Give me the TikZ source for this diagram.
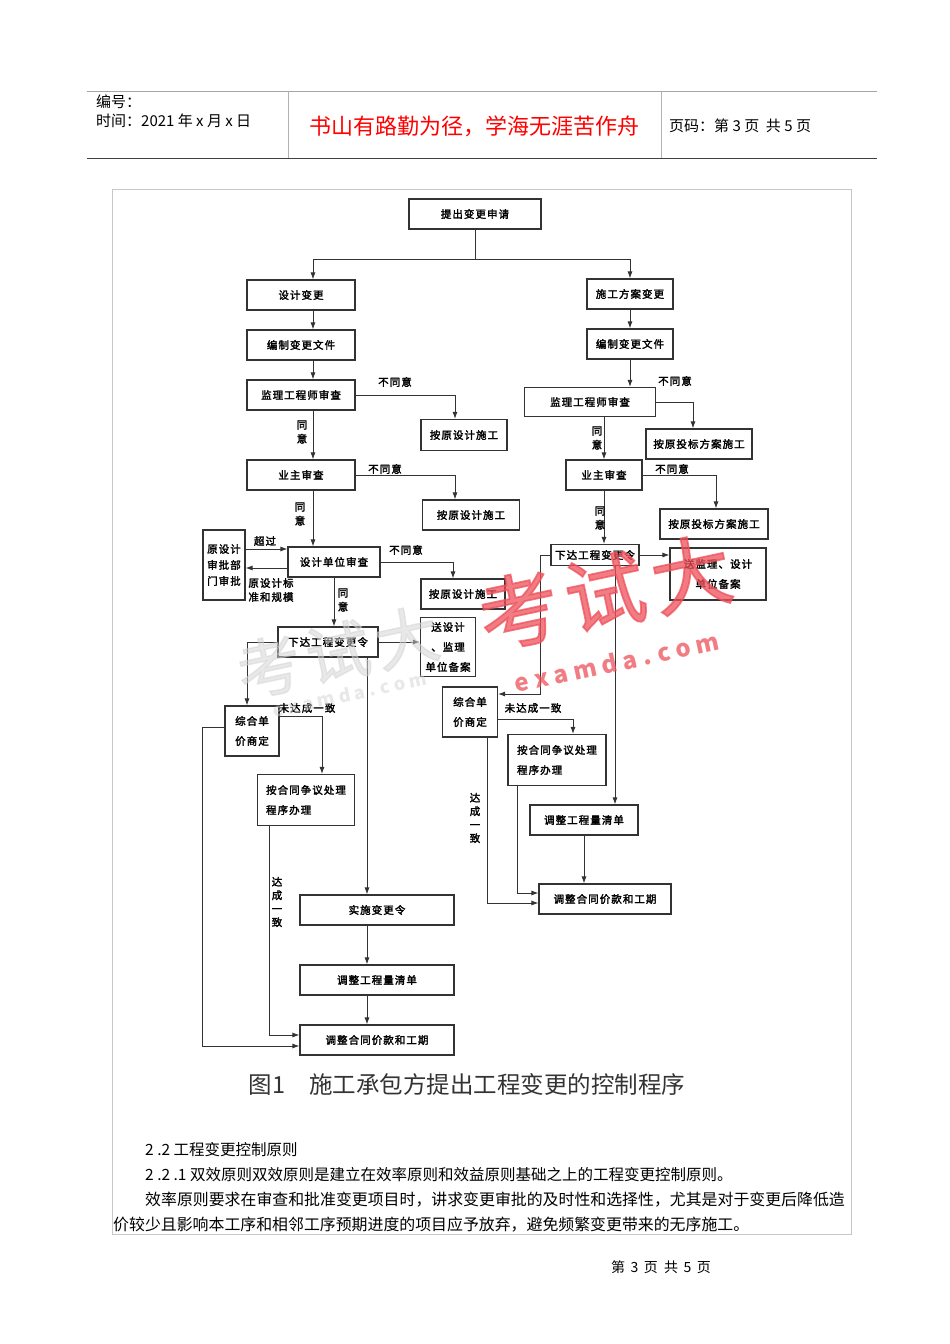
\documentclass[tikz,border=0pt]{standalone}
\usepackage{fontspec}
\setmainfont{Noto Sans CJK SC}
\newfontfamily\fcb{Noto Sans CJK SC}[FakeBold=2.2, LetterSpace=10]
\usetikzlibrary{arrows.meta,positioning,calc}
\definecolor{framegray}{gray}{0.78}
\definecolor{wmred}{RGB}{238,80,90}

\begin{document}
\begin{tikzpicture}[x=1pt, y=-1pt,
    >={Latex[length=7pt,width=5pt]},
    box/.style={draw=black!80, line width=1.1pt, fill=white, align=center, inner sep=1pt,
      font=\fcb\fontsize{10.5}{20}\selectfont},
    sz/.style 2 args={minimum width=#1pt, minimum height=#2pt},
    tag/.style={font=\fcb\fontsize{10.5}{14}\selectfont, inner sep=0pt, align=center},
    link/.style={->, line width=0.9pt, draw=black!80},
    plain/.style={anchor=west, inner sep=0pt}
]
\useasboundingbox (0,0) rectangle (950,1344);

% page header
\draw[gray!70, line width=1pt] (87,91) -- (877,91);
\draw[black!75, line width=1pt] (87,158) -- (877,158);
\draw[gray!60] (288,91) -- (288,158) (661,91) -- (661,158);
\node[plain, font=\fontsize{15}{15}\selectfont] (hno) at (96,102) {编号：};
\node[plain, font=\fontsize{15}{15}\selectfont] (hdate) at (96,121) {时间：2021 年 x 月 x 日};
\node[text=red, font=\fontsize{22}{22}\selectfont] (motto) at (474,126) {书山有路勤为径，学海无涯苦作舟};
\node[plain, font=\fontsize{15}{15}\selectfont] (hpage) at (669,126) {页码：第 3 页 \ 共 5 页};

\draw[framegray, line width=0.8pt] (112,189) rectangle (851,1234);

% boxes
\node[box, sz={132}{30}] (req) at (475,214) {提出变更申请};
\node[box, sz={108}{30}] (dchg) at (301,295) {设计变更};
\node[box, sz={86}{30}] (cchg) at (630,294) {施工方案变更};
\node[box, sz={108}{30}] (ddoc) at (301,345) {编制变更文件};
\node[box, sz={86}{30}] (cdoc) at (630,344) {编制变更文件};
\node[box, sz={108}{30}] (dsup) at (301,395) {监理工程师审查};
\node[box, sz={131}{29}] (csup) at (590,402) {监理工程师审查};
\node[box, sz={86}{31}] (dorig1) at (464,435) {按原设计施工};
\node[box, sz={106}{30}] (corig1) at (699,444) {按原投标方案施工};
\node[box, sz={108}{30}] (down) at (301,475) {业主审查};
\node[box, sz={76}{30}] (cown) at (604,475) {业主审查};
\node[box, sz={97}{30}] (dorig2) at (471,515) {按原设计施工};
\node[box, sz={108}{30}] (corig2) at (714,524) {按原投标方案施工};
\node[box, sz={42}{70}, font=\fcb\fontsize{10.5}{16}\selectfont] (appr) at (224,565) {原设计\\审批部\\门审批};
\node[box, sz={92}{30}] (drev) at (334,562) {设计单位审查};
\node[box, sz={84}{30}] (dorig3) at (463,594) {按原设计施工};
\node[box, sz={88}{21}] (cord) at (595,555) {下达工程变更令};
\node[box, sz={96}{52}] (cfile) at (718,574) {送监理、设计\\单位备案};
\node[box, sz={100}{30}] (dord) at (328,642) {下达工程变更令};
\node[box, sz={55}{59}] (dfile) at (448,647) {送设计\\、监理\\单位备案};
\node[box, sz={54}{50}] (dprice) at (252,731) {综合单\\价商定};
\node[box, sz={97}{51}, align=left] (ddisp) at (306,800) {按合同争议处理\\程序办理};
\node[box, sz={55}{50}] (cprice) at (470,712) {综合单\\价商定};
\node[box, sz={98}{51}, align=left] (cdisp) at (557,760) {按合同争议处理\\程序办理};
\node[box, sz={108}{30}] (cqty) at (584,820) {调整工程量清单};
\node[box, sz={132}{30}] (cadj) at (605,899) {调整合同价款和工期};
\node[box, sz={154}{30}] (impl) at (377,910) {实施变更令};
\node[box, sz={154}{30}] (dqty) at (377,980) {调整工程量清单};
\node[box, sz={154}{30}] (dadj) at (377,1040) {调整合同价款和工期};

% connectors
\coordinate (fork) at (475,259);
\coordinate (lsp) at (313,0);
\coordinate (yhi) at (0,549);
\coordinate (ylo) at (0,568);
\draw[line width=0.9pt, black!80] (req) -- (fork);
\draw[link] (fork) -| (dchg.north -| lsp);
\draw[link] (fork) -| (cchg.north);
\draw[link] (dchg.south -| lsp) -- (ddoc.north -| lsp);
\draw[link] (ddoc.south -| lsp) -- (dsup.north -| lsp);
\draw[link] (dsup.south -| lsp) -- (down.north -| lsp);
\draw[link] (down.south -| lsp) -- (drev.north -| lsp);
\draw[link] (cchg) -- (cdoc);
\draw[link] (cdoc.south) -- (cdoc.south |- csup.north);
\draw[link] (csup.south -| cown.north) -- (cown.north);
\draw[link] (cown.south) -- (cown.south |- cord.north);
\draw[link] (dsup.east) -| ([xshift=-9pt]dorig1.north);
\draw[link] (csup.east) -| ([xshift=-6pt]corig1.north);
\draw[link] (down.east) -| ([xshift=-16pt]dorig2.north);
\draw[link] (cown.east) -| ([xshift=2pt]corig2.north);
\draw[link] (appr.east |- yhi) -- (drev.west |- yhi);
\draw[link] (drev.west |- ylo) -- (appr.east |- ylo);
\draw[link] (drev.east) -| ([xshift=-10pt]dorig3.north);
\draw[link] (drev.south) -- (drev.south |- dord.north);
\draw[link] (dord.east) -- (dord.east -| dfile.west);
\draw[link] (dord.west) -| ([xshift=-5pt]dprice.north);
\draw[link] ([xshift=-10pt]impl.north |- dord.south) -- ([xshift=-10pt]impl.north);
\draw[link] ([yshift=15pt]dprice.east) -| ([xshift=16pt]ddisp.north);
\draw[link] ([yshift=4pt]dprice.west) -- ++(-22,0) |- ([yshift=-6pt]dadj.west);
\draw[link] ([xshift=-37pt]ddisp.south) |- ([yshift=5pt]dadj.west);
\draw[link] ([xshift=-10pt]impl.south) -- ([xshift=-10pt]dqty.north);
\draw[link] ([xshift=-10pt]dqty.south) -- ([xshift=-10pt]dadj.north);
\draw[link] (cord.east) -- (cord.east -| cfile.west);
\draw[link] (cord.west) -- ++(-10,0) |- ([yshift=18pt]cprice.east);
\draw[link] ([xshift=20pt]cord.south) -- ([xshift=20pt]cord.south |- cqty.north);
\draw[link] ([yshift=-7pt]cprice.east) -| ([xshift=16pt]cdisp.north);
\draw[link] ([xshift=17pt]cprice.south) |- ([yshift=-4pt]cadj.west);
\draw[link] ([xshift=-40pt]cdisp.south) |- ([yshift=6pt]cadj.west);
\draw[link] (cqty.south) -- (cqty.south |- cadj.north);

% labels
\node[tag] (no1) at (395,382) {不同意};
\node[tag] (no2) at (675,381) {不同意};
\node[tag] (no3) at (385,469) {不同意};
\node[tag] (no4) at (672,469) {不同意};
\node[tag] (no5) at (406,550) {不同意};
\node[tag] (yes1) at (302,432) {同\\意};
\node[tag] (yes2) at (300,514) {同\\意};
\node[tag] (yes3) at (597,438) {同\\意};
\node[tag] (yes4) at (600,518) {同\\意};
\node[tag] (yes5) at (343,600) {同\\意};
\node[tag] (over) at (265,541) {超过};
\node[tag, align=left] (std) at (271,590) {原设计标\\准和规模};
\node[tag] (nagr1) at (307,708) {未达成一致};
\node[tag] (nagr2) at (533,708) {未达成一致};
\node[tag, font=\fcb\fontsize{10.5}{13.5}\selectfont] (agr1) at (277,902) {达\\成\\一\\致};
\node[tag, font=\fcb\fontsize{10.5}{13.5}\selectfont] (agr2) at (475,818) {达\\成\\一\\致};

% caption and text
\node[text=black!80, font=\fontsize{23.5}{24}\selectfont] (cap) at (467,1084) {图1\quad 施工承包方提出工程变更的控制程序};
\node[plain, font=\fontsize{15.5}{16}\selectfont] (sec) at (145,1150) {2 .2 工程变更控制原则};
\node[plain, font=\fontsize{15.5}{16}\selectfont] (subsec) at (145,1175) {2 .2 .1 双效原则双效原则是建立在效率原则和效益原则基础之上的工程变更控制原则。};
\node[plain, font=\fontsize{15.9}{16}\selectfont] (para1) at (145,1200) {效率原则要求在审查和批准变更项目时，讲求变更审批的及时性和选择性，尤其是对于变更后降低造};
\node[plain, font=\fontsize{15.9}{16}\selectfont] (para2) at (113,1225) {价较少且影响本工序和相邻工序预期进度的项目应予放弃，避免频繁变更带来的无序施工。};
\node[font=\fontsize{14}{14}\selectfont] (foot) at (661,1267) {第 \,3\, 页 \ 共 \,5\, 页};

% watermark
\node[rotate=12, text=wmred, opacity=0.75, font=\fcb\fontsize{80}{80}\selectfont] (wm) at (605,592) {考试大};
\node[rotate=12, text=wmred, opacity=0.75, font=\bfseries\fontsize{24}{24}\selectfont] (wmurl) at (617,662) {e x a m d a . c o m};
\node[rotate=12, text=gray!35, opacity=0.5, font=\fcb\fontsize{64}{64}\selectfont] (wmg) at (338,652) {考试大};
\node[rotate=12, text=gray!35, opacity=0.5, font=\bfseries\fontsize{18}{18}\selectfont] (wmgurl) at (350,694) {e x a m d a . c o m};
\end{tikzpicture}
\end{document}
